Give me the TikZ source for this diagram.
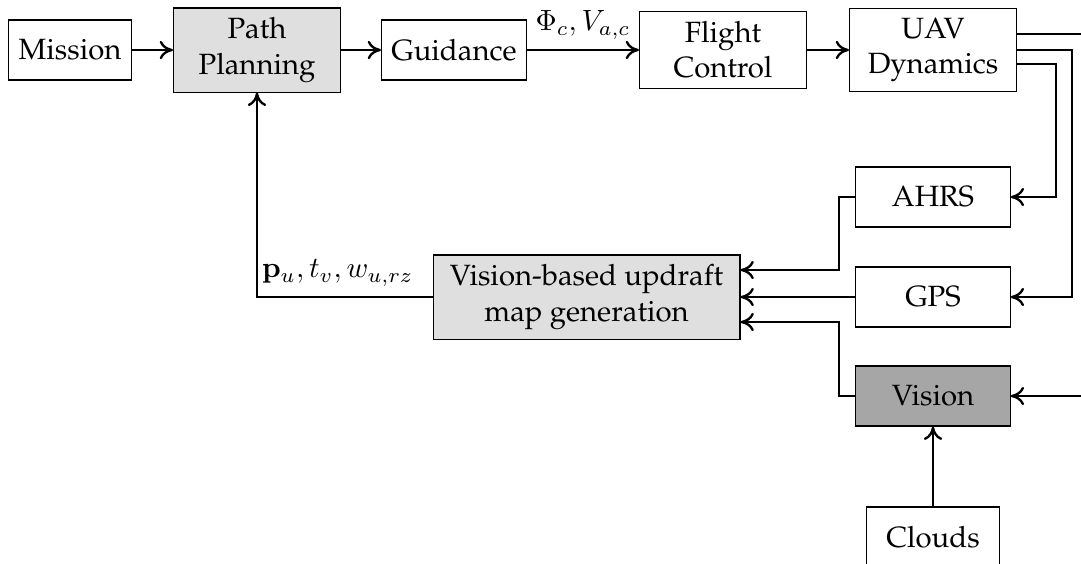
\documentclass[tikz,border=0pt]{standalone}
\usepackage[T1]{fontenc}
\renewcommand{\rmdefault}{ppl}
\usepackage{amsmath,amssymb}
\usetikzlibrary{arrows.meta,calc}

\tikzset{
    block/.style={draw, thin, align=center, minimum height=0.72cm},
    wideblock/.style={block, minimum width=2cm},
    sensor/.style={block, minimum width=1.85cm},
    sig/.style={thick, -{To[length=1.6mm, width=2.2mm]}},
}

\begin{document}
\begin{tikzpicture}[x=0.012cm, y=-0.012cm]

% Frame of the picture
\useasboundingbox (0,0) rectangle (1081,563);
\clip (0,0) rectangle (1081,563);

% Top row: planning and control chain
\node[block] (mission) at (70,50) {Mission};
\node[wideblock, fill=gray!25] (planning) at (257,50) {Path\\Planning};
\node[block] (guidance) at (454,50) {Guidance};
\node[wideblock] (flight) at (723,50) {Flight\\Control};
\node[wideblock] (uav) at (933,50) {UAV\\Dynamics};

% Sensors on the right
\node[sensor] (ahrs) at (933,197) {AHRS};
\node[sensor] (gps) at (933,297) {GPS};
\node[sensor, fill=gray!70] (vision) at (933,396) {Vision};
\node[block, minimum width=1.6cm] (clouds) at (933,537) {Clouds};

% Updraft map block
\node[block, fill=gray!25, minimum width=3.68cm] (updraft) at (586.5,297) {Vision-based updraft\\map generation};

% Bus lines
\coordinate (busA) at (1100,0);
\coordinate (busB) at (1072,0);
\coordinate (busC) at (1056,0);
\coordinate (busL) at (839,0);
\coordinate (uavhi) at ($(uav.east)+(0,-16)$);
\coordinate (uavlo) at ($(uav.east)+(0,14)$);
\coordinate (inhi) at ($(updraft.east)+(0,-27)$);
\coordinate (inlo) at ($(updraft.east)+(0,25)$);

% Top row arrows
\draw[sig] (mission) -- (planning);
\draw[sig] (planning) -- (guidance);
\draw[sig] (guidance) -- node[above] {$\Phi_c, V_{a,c}$} (flight);
\draw[sig] (flight) -- (uav);

% UAV states to the sensors
\draw[sig] (uavhi) -- (uavhi -| busA) |- (vision.east);
\draw[sig] (uav.east) -- (uav.east -| busB) |- (gps.east);
\draw[sig] (uavlo) -- (uavlo -| busC) |- (ahrs.east);

% Sensors into the map generation
\draw[sig] (ahrs.west) -- (ahrs.west -| busL) |- (inhi);
\draw[sig] (gps.west) -- (gps.west -| updraft.east);
\draw[sig] (vision.west) -- (vision.west -| busL) |- (inlo);
\draw[sig] (clouds) -- (vision);

% Feedback to path planning
\draw[sig] (updraft.west) -| node[pos=0.27, above] {$\mathbf{p}_u, t_v, w_{u,rz}$} (planning.south);

\end{tikzpicture}
\end{document}
